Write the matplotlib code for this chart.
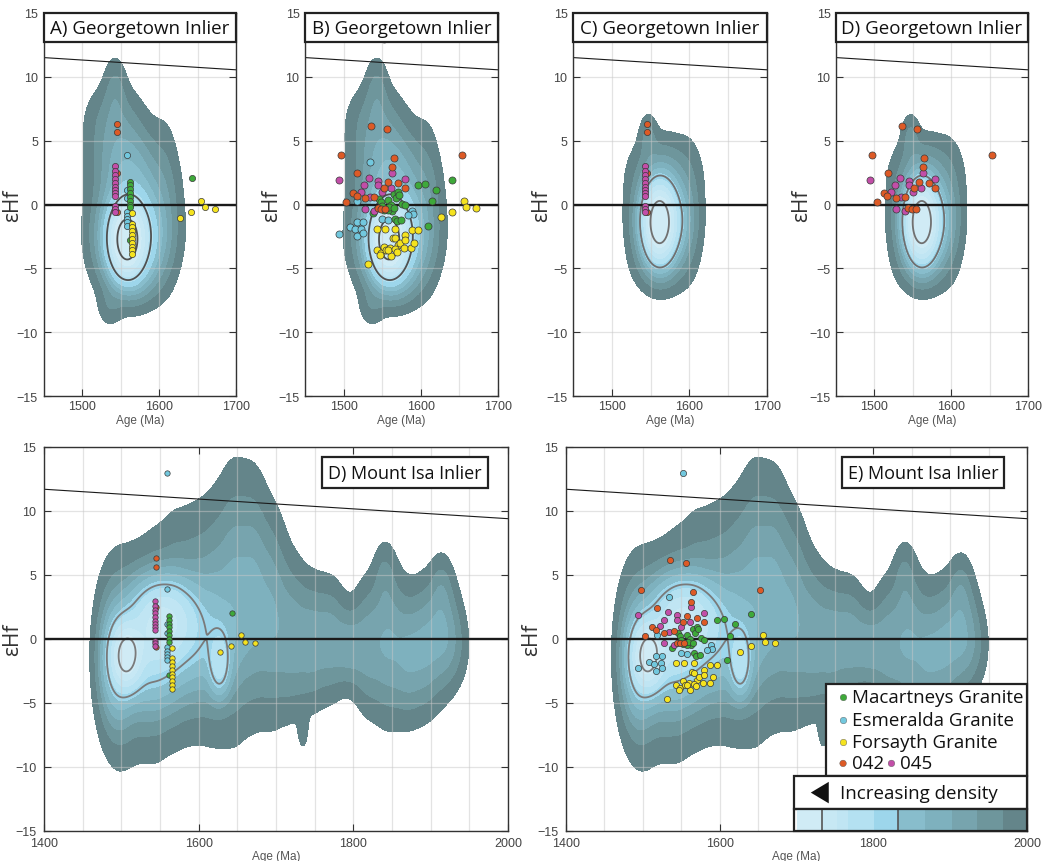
import numpy as np
import matplotlib
matplotlib.use("Agg")
import matplotlib.pyplot as plt
from matplotlib.patches import Rectangle, Polygon

plt.rcParams["font.family"] = ["Liberation Sans", "DejaVu Sans"]
TITLE_FONT = ["Open Sans", "DejaVu Sans"]

# ---------------------------------------------------------------- data
# depleted-mantle reference line
dm_age = [1400, 2000]
dm_ehf = [11.7, 9.4]

# individual spot ages (Ma) and eHf values
mac_age = [1538, 1546, 1549, 1557, 1562, 1565, 1568, 1570, 1572, 1576, 1580, 1563, 1557,
           1559, 1565, 1566, 1569, 1574, 1550, 1552, 1597, 1605, 1620, 1614, 1609, 1641]
mac_ehf = [-0.7, 0.45, 0.2, 0.35, 0.0, 0.8, 0.5, 0.95, 0.75, 0.05, -0.05, -0.5, -0.45,
           -0.2, -0.3, -1.1, -1.3, -1.25, -0.1, -0.4, 1.5, 1.6, 1.15, 0.25, -1.65, 1.95]

esm_age = [1552, 1534, 1494, 1508, 1515, 1517, 1525, 1523, 1517, 1525, 1518, 1550, 1557,
           1589, 1590, 1584]
esm_ehf = [12.95, 3.3, -2.3, -1.8, -1.95, -1.35, -1.35, -1.9, -2.5, -2.25, 0.3, -1.1, -1.2,
           -0.5, -0.75, -0.85]

for_age = [1543, 1554, 1567, 1564, 1566, 1580, 1588, 1596, 1570, 1573, 1580, 1578, 1587,
           1591, 1543, 1548, 1552, 1555, 1560, 1562, 1547, 1558, 1567, 1569, 1532, 1626,
           1641, 1656, 1659, 1672]
for_ehf = [-1.9, -1.9, -1.9, -2.6, -2.65, -2.4, -2.0, -2.0, -3.2, -3.0, -2.8, -3.4, -3.4,
           -3.0, -3.6, -3.8, -3.3, -3.6, -3.4, -4.0, -3.95, -3.6, -3.5, -3.7, -4.65, -1.0,
           -0.55, 0.3, -0.23, -0.3]

s042_age = [1497, 1536, 1556, 1565, 1563, 1518, 1503, 1512, 1517, 1528, 1540, 1552, 1558,
            1571, 1579, 1544, 1549, 1554, 1653]
s042_ehf = [3.85, 6.15, 5.9, 3.65, 2.9, 2.45, 0.2, 0.9, 0.7, 0.5, 0.6, 1.3, 1.8,
            1.65, 1.3, -0.3, -0.35, -0.35, 3.85]

s045_age = [1494, 1533, 1545, 1527, 1522, 1534, 1545, 1550, 1563, 1561, 1579, 1528, 1540]
s045_ehf = [1.9, 2.1, 1.85, 1.5, 1.0, 0.55, 1.5, 0.95, 2.5, 1.3, 2.0, -0.35, -0.5]

# the same analyses plotted at their sample mean ages
cmac_age = [1562, 1562, 1562, 1562, 1562, 1562, 1562, 1562, 1562, 1643]
cmac_ehf = [1.8, 1.5, 1.2, 0.9, 0.6, 0.3, 0.0, -0.2, -2.8, 2.05]
cesm_age = [1559, 1559, 1559, 1559, 1559, 1559, 1559, 1559, 1559]
cesm_ehf = [13.0, 3.9, 1.15, 0.5, -0.6, -0.9, -1.15, -1.4, -1.65]
cfor_age = [1565, 1565, 1565, 1565, 1565, 1565, 1565, 1565, 1565, 1565,
            1627, 1642, 1655, 1660, 1673]
cfor_ehf = [-0.7, -1.5, -1.8, -2.1, -2.4, -2.7, -3.0, -3.3, -3.6, -3.9,
            -1.05, -0.58, 0.3, -0.22, -0.32]
c042_age = [1545, 1545, 1545, 1545]
c042_ehf = [6.3, 5.65, 2.5, -0.6]
c045_age = [1543] * 12
c045_ehf = [3.0, 2.6, 2.3, 2.0, 1.7, 1.4, 1.15, 0.9, 0.7, -0.15, -0.35, -0.55]

# density model (Gaussian components: age, eHf, sd age, sd eHf, weight)
# Georgetown Inlier, all samples
gta_age = [1543, 1542, 1556, 1567, 1567, 1566, 1536, 1558, 1562, 1608]
gta_ehf = [9.0, 6.5, 3.5, 0.5, -2.8, -5.5, -8.0, -2.8, -2.5, 0.5]
gta_sa = [9, 22, 24, 27, 27, 22, 10, 12, 20, 12]
gta_se = [1.6, 1.8, 1.9, 2.2, 2.0, 1.5, 1.0, 1.5, 2.0, 4.0]
gta_w = [0.03, 0.04, 0.07, 0.10, 0.14, 0.06, 0.02, 1.0, 0.3, 0.02]

# Georgetown Inlier, samples 042 and 045
gtb_age = [1547, 1565, 1561, 1566, 1563, 1600]
gtb_ehf = [5.3, 2.3, -1.4, -1.3, -4.5, -0.5]
gtb_sa = [7, 24, 11, 19, 20, 12]
gtb_se = [1.1, 1.8, 1.6, 1.9, 1.5, 3.5]
gtb_w = [0.03, 0.06, 1.0, 0.35, 0.05, 0.015]

# Mount Isa Inlier: broad background ridge
mia_age = [1484, 1500, 1522, 1545, 1570, 1595, 1620, 1645, 1670, 1695,
           1720, 1745, 1770, 1795, 1820, 1845, 1870, 1893, 1915, 1930, 1735, 1840, 1914]
mia_ehf = [-1.3, -1.65, -0.95, -0.5, 0.85, 1.3, 1.65, 2.9, 3.4, 1.8,
           0.2, -0.25, 0.0, -0.65, -0.55, -0.15, -1.35, -0.7, 0.65, -0.5, -7.0, 5.0, 4.0]
mia_sa = [13, 13, 13, 13, 13, 13, 13, 13, 13, 13,
          13, 13, 13, 13, 13, 13, 13, 13, 13, 13, 4, 8, 8]
mia_se = [4.0, 4.35, 4.1, 4.5, 4.6, 4.6, 4.8, 5.3, 4.9, 4.3,
          3.35, 2.8, 2.55, 1.8, 2.85, 3.4, 2.8, 2.8, 2.7, 2.0, 1.0, 1.5, 1.5]
mia_w = [0.04, 0.05, 0.06, 0.06, 0.06, 0.06, 0.07, 0.08, 0.08, 0.07,
         0.06, 0.06, 0.06, 0.06, 0.06, 0.07, 0.07, 0.07, 0.07, 0.025, 0.02, 0.02, 0.02]
# Mount Isa Inlier: main Mesoproterozoic cluster
mib_age = [1507, 1555, 1627, 1540, 1600, 1495]
mib_ehf = [-1.3, 1.5, -1.8, -0.8, 0.0, -2.0]
mib_sa = [12, 24, 8, 25, 30, 12]
mib_se = [1.5, 1.8, 1.5, 2.5, 2.5, 2.5]
mib_w = [0.9, 0.5, 0.3, 0.25, 0.12, 0.15]

# ---------------------------------------------------------------- styling
FILL = ["#64858a", "#6e969c", "#77a4ae", "#7eb1be", "#88bdcc",
        "#9dd6eb", "#b4e1f1", "#c0e5f3", "#c7e8f4", "#d0ebf5"]
C_MAC, C_ESM, C_FOR = "#3ea93a", "#72c8de", "#f5e31f"
C_042, C_045 = "#dd5a26", "#c24ea8"

W, H = 1045, 862
fig = plt.figure(figsize=(W / 100, H / 100), dpi=100)

AG, EG = np.meshgrid(np.linspace(1400, 2000, 901), np.linspace(-15, 15, 451))


def mixture(*comps):
    z = np.zeros_like(AG)
    for ages, ehfs, sas, ses, ws in comps:
        for a, e, sa, se, w in zip(ages, ehfs, sas, ses, ws):
            z += w * np.exp(-0.5 * (((AG - a) / sa) ** 2 + ((EG - e) / se) ** 2))
    return z


Z_GTA = mixture((gta_age, gta_ehf, gta_sa, gta_se, gta_w))
Z_GTB = mixture((gtb_age, gtb_ehf, gtb_sa, gtb_se, gtb_w))
Z_MI = mixture((mia_age, mia_ehf, mia_sa, mia_se, mia_w),
               (mib_age, mib_ehf, mib_sa, mib_se, mib_w))

LEV_GT = [0.01, 0.03, 0.055, 0.085, 0.12, 0.17, 0.25, 0.36, 0.5, 0.7, 10]
LEV_MI = [0.01, 0.03, 0.055, 0.085, 0.13, 0.2, 0.3, 0.44, 0.62, 0.82, 10]


def px_axes(l, t, r, b):
    return fig.add_axes([l / W, 1 - b / H, (r - l) / W, (b - t) / H])


def panel(ax, xlim, xmaj, xmin, xpad, ypad, z, levels, lines, line_color, groups, msize,
          ylab_x):
    ax.contourf(AG, EG, z, levels=levels, colors=FILL, zorder=1)
    ax.contour(AG, EG, z, levels=lines, colors=line_color, linewidths=1.3, zorder=3)
    ax.axhline(0, color="#1a1a1a", lw=1.7, zorder=3)
    ax.plot(dm_age, dm_ehf, color="#1a1a1a", lw=0.8, zorder=3)
    for x, y, c in groups:
        ax.scatter(x, y, s=msize, c=c, edgecolors="#3a3a3a", linewidths=0.5, zorder=5)
    ax.set_xlim(*xlim)
    ax.set_ylim(-15, 15)
    ax.set_xticks(xmaj)
    ax.set_xticks(xmin, minor=True)
    ax.set_yticks(range(-15, 16, 5))
    ax.set_axisbelow(False)
    ax.grid(True, which="both", color="#c8c8c8", alpha=0.5, lw=0.9)
    ax.tick_params(which="major", direction="in", length=5, width=0.8, color="#333333",
                   top=True, right=True, labelsize=9, labelcolor="#444444")
    ax.tick_params(axis="x", which="major", pad=xpad)
    ax.tick_params(axis="y", which="major", pad=ypad)
    ax.tick_params(which="minor", length=0)
    for s in ax.spines.values():
        s.set_color("#333333")
        s.set_linewidth(1.0)
        s.set_zorder(6)
    ax.set_xlabel("Age (Ma)", fontsize=8.5, color="#555555", labelpad=1)
    ax.set_ylabel("εHf", fontsize=15, color="#333333", family=TITLE_FONT)
    ax.yaxis.set_label_coords(ylab_x, 0.5)


def top_title(ax, text):
    h = 29 / 383
    ax.add_patch(Rectangle((0, 1 - h), 1, h, transform=ax.transAxes, fc="white",
                           ec="#222222", lw=1.6, zorder=10, clip_on=False))
    ax.text(0.5, 1 - h / 2, text, transform=ax.transAxes, ha="center", va="center",
            fontsize=13.5, family=TITLE_FONT, color="#111111", zorder=11)


def inset_title(ax, text, x0, x1):
    y0, y1 = 0.893, 0.974
    ax.add_patch(Rectangle((x0, y0), x1 - x0, y1 - y0, transform=ax.transAxes, fc="white",
                           ec="#222222", lw=1.6, zorder=10))
    ax.text((x0 + x1) / 2, (y0 + y1) / 2, text, transform=ax.transAxes, ha="center",
            va="center", fontsize=13, family=TITLE_FONT, color="#111111", zorder=11)


col_all = [(cesm_age, cesm_ehf, C_ESM), (cmac_age, cmac_ehf, C_MAC),
           (cfor_age, cfor_ehf, C_FOR), (c042_age, c042_ehf, C_042),
           (c045_age, c045_ehf, C_045)]
col_ox = [(c042_age, c042_ehf, C_042), (c045_age, c045_ehf, C_045)]
spot_all = [(esm_age, esm_ehf, C_ESM), (mac_age, mac_ehf, C_MAC),
            (for_age, for_ehf, C_FOR), (s045_age, s045_ehf, C_045),
            (s042_age, s042_ehf, C_042)]
spot_ox = [(s045_age, s045_ehf, C_045), (s042_age, s042_ehf, C_042)]

TOP_X = ((1450, 1700), [1500, 1600, 1700], [1450, 1550, 1650], 3, 4)
BOT_X = ((1400, 2000), [1400, 1600, 1800, 2000], list(range(1450, 2000, 50)), 4, 5.5)

axA = px_axes(43.5, 14, 236, 397)
panel(axA, *TOP_X, Z_GTA, LEV_GT, [0.28, 0.95], "#505050", col_all, 20, -0.106)
top_title(axA, "A) Georgetown Inlier")

axB = px_axes(305, 14, 498, 397)
panel(axB, *TOP_X, Z_GTA, LEV_GT, [0.28, 0.95], "#505050", spot_all, 26, -0.119)
top_title(axB, "B) Georgetown Inlier")

axC = px_axes(573, 14, 767, 397)
panel(axC, *TOP_X, Z_GTB, LEV_GT, [0.19, 0.85], "#707070", col_ox, 20, -0.108)
top_title(axC, "C) Georgetown Inlier")

axD = px_axes(836, 14, 1028, 397)
panel(axD, *TOP_X, Z_GTB, LEV_GT, [0.19, 0.85], "#707070", spot_ox, 26, -0.125)
top_title(axD, "D) Georgetown Inlier")

axM1 = px_axes(44, 448, 508, 832)
panel(axM1, *BOT_X, Z_MI, LEV_MI, [0.24, 0.9], "#7a7a7a", col_all, 15, -0.045)
inset_title(axM1, "D) Mount Isa Inlier", 0.599, 0.957)

axM2 = px_axes(566, 448, 1027, 832)
panel(axM2, *BOT_X, Z_MI, LEV_MI, [0.24, 0.9], "#7a7a7a", spot_all, 20, -0.052)
inset_title(axM2, "E) Mount Isa Inlier", 0.599, 0.950)

# ---- legend, density key and colour strip inside panel E
T = axM2.transAxes
axM2.add_patch(Rectangle((0.564, 0.143), 0.436, 0.240, transform=T, fc="white",
                         ec="#222222", lw=1.6, zorder=10, clip_on=False))
rows = [("Macartneys Granite", C_MAC, 0.349), ("Esmeralda Granite", C_ESM, 0.289),
        ("Forsayth Granite", C_FOR, 0.233)]
for label, col, y in rows:
    axM2.scatter([0.601], [y], s=22, c=col, edgecolors="#555555", linewidths=0.3,
                 transform=T, zorder=11, clip_on=False)
    axM2.text(0.620, y, label, transform=T, ha="left", va="center", fontsize=13.5,
              family=TITLE_FONT, color="#111111", zorder=11)
axM2.scatter([0.601, 0.706], [0.176, 0.176], s=22, c=[C_042, C_045], edgecolors="#555555",
             linewidths=0.3, transform=T, zorder=11, clip_on=False)
axM2.text(0.620, 0.176, "042", transform=T, ha="left", va="center", fontsize=13.5,
          family=TITLE_FONT, color="#111111", zorder=11)
axM2.text(0.724, 0.176, "045", transform=T, ha="left", va="center", fontsize=13.5,
          family=TITLE_FONT, color="#111111", zorder=11)

axM2.add_patch(Rectangle((0.495, 0.057), 0.505, 0.086, transform=T, fc="white",
                         ec="#222222", lw=1.6, zorder=10, clip_on=False))
axM2.add_patch(Polygon([[0.531, 0.100], [0.570, 0.128], [0.570, 0.072]], closed=True,
                       transform=T, fc="#111111", ec="none", zorder=11))
axM2.text(0.594, 0.100, "Increasing density", transform=T, ha="left", va="center",
          fontsize=13.5, family=TITLE_FONT, color="#111111", zorder=11)

cbar_edges = [0.5004, 0.5547, 0.5872, 0.6124, 0.6681, 0.7208, 0.7787, 0.8367,
              0.8909, 0.9486, 1.0]
for i, col in enumerate(FILL[::-1]):
    axM2.add_patch(Rectangle((cbar_edges[i], 0.0), cbar_edges[i + 1] - cbar_edges[i], 0.057,
                             transform=T, fc=col, ec="none", zorder=10, clip_on=False))
for xd in (0.5547, 0.7208):
    axM2.plot([xd, xd], [0.0, 0.057], transform=T, color="#555555", lw=1.2, zorder=11)
axM2.add_patch(Rectangle((0.495, 0.0), 0.505, 0.057, transform=T, fc="none",
                         ec="#222222", lw=1.6, zorder=12, clip_on=False))

fig.savefig("out.png", dpi=100, facecolor="white")
